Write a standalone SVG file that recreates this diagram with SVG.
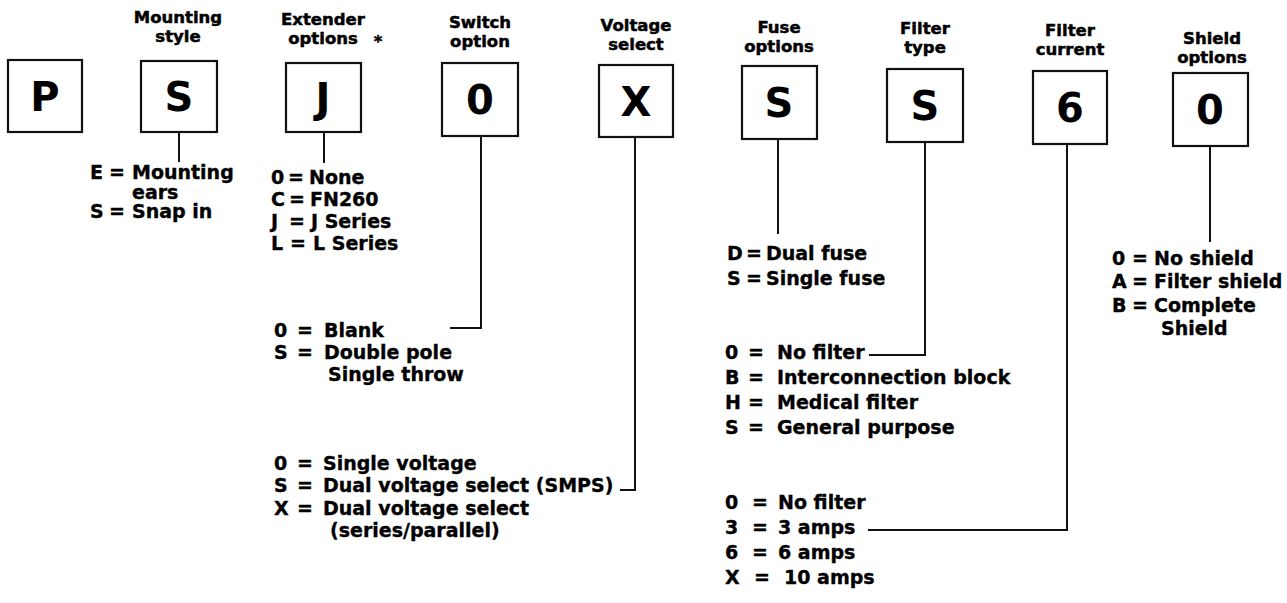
<svg xmlns="http://www.w3.org/2000/svg" width="1287" height="603" viewBox="0 0 1287 603">
<style>
.bg{fill:#fff}
.box{fill:#fff;stroke:#111;stroke-width:2.2}
.big{font-family:"DejaVu Sans","Liberation Sans",sans-serif;font-weight:bold;font-size:40px;text-anchor:middle;fill:#000}
.hd{font-family:"DejaVu Sans","Liberation Sans",sans-serif;font-weight:bold;font-size:16.5px;text-anchor:middle;fill:#000;stroke:#000;stroke-width:0.5}
.t{font-family:"DejaVu Sans","Liberation Sans",sans-serif;font-weight:bold;font-size:19px;fill:#000;stroke:#000;stroke-width:0.35}
.ln{fill:none;stroke:#111;stroke-width:2}
</style>
<rect class="bg" x="0" y="0" width="1287" height="603"/>

<g id="node-p">
<rect class="box" x="8" y="60" width="74" height="72"/>
<text class="big" x="45" y="111">P</text>
</g>

<g id="node-mounting">
<text class="hd" x="178" y="23">Mounting</text>
<text class="hd" x="178" y="42">style</text>
<rect class="box" x="141" y="61" width="76" height="71"/>
<text class="big" x="179" y="111">S</text>
<text class="t" y="179"><tspan x="90">E</tspan><tspan x="109">=</tspan><tspan x="132">Mounting</tspan></text>
<text class="t" x="132" y="198.5">ears</text>
<text class="t" y="218"><tspan x="90">S</tspan><tspan x="109">=</tspan><tspan x="132">Snap in</tspan></text>
</g>

<g id="node-extender">
<text class="hd" x="323" y="25">Extender</text>
<text class="hd" x="323" y="44">options</text>
<text class="hd" x="378" y="47">*</text>
<rect class="box" x="286" y="63" width="75" height="69"/>
<text class="big" x="323" y="112">J</text>
<text class="t" y="184"><tspan x="271">0</tspan><tspan x="288">=</tspan><tspan x="309">None</tspan></text>
<text class="t" y="206"><tspan x="271">C</tspan><tspan x="289">=</tspan><tspan x="310">FN260</tspan></text>
<text class="t" y="228"><tspan x="271">J</tspan><tspan x="289">=</tspan><tspan x="311">J Series</tspan></text>
<text class="t" y="250"><tspan x="271">L</tspan><tspan x="290">=</tspan><tspan x="313">L Series</tspan></text>
</g>

<g id="node-switch">
<text class="hd" x="480" y="28">Switch</text>
<text class="hd" x="480" y="47">option</text>
<rect class="box" x="442" y="63" width="76" height="73"/>
<text class="big" x="480" y="114">0</text>
<text class="t" y="337"><tspan x="274">0</tspan><tspan x="297">=</tspan><tspan x="324">Blank</tspan></text>
<text class="t" y="359"><tspan x="274">S</tspan><tspan x="297">=</tspan><tspan x="324">Double pole</tspan></text>
<text class="t" x="328" y="381">Single throw</text>
</g>

<g id="node-voltage">
<text class="hd" x="636" y="31">Voltage</text>
<text class="hd" x="636" y="50">select</text>
<rect class="box" x="599" y="65" width="74" height="72"/>
<text class="big" x="636" y="116">X</text>
<text class="t" y="470"><tspan x="274">0</tspan><tspan x="297">=</tspan><tspan x="323">Single voltage</tspan></text>
<text class="t" y="492"><tspan x="274">S</tspan><tspan x="297">=</tspan><tspan x="323">Dual voltage select (SMPS)</tspan></text>
<text class="t" y="515"><tspan x="274">X</tspan><tspan x="297">=</tspan><tspan x="323">Dual voltage select</tspan></text>
<text class="t" x="330" y="537">(series/parallel)</text>
</g>

<g id="node-fuse">
<text class="hd" x="779" y="33">Fuse</text>
<text class="hd" x="779" y="52">options</text>
<rect class="box" x="742" y="66" width="75" height="73"/>
<text class="big" x="779" y="117">S</text>
<text class="t" y="260"><tspan x="727">D</tspan><tspan x="746">=</tspan><tspan x="766">Dual fuse</tspan></text>
<text class="t" y="285"><tspan x="727">S</tspan><tspan x="746">=</tspan><tspan x="766">Single fuse</tspan></text>
</g>

<g id="node-filter-type">
<text class="hd" x="925" y="34">Filter</text>
<text class="hd" x="925" y="53">type</text>
<rect class="box" x="887" y="69" width="76" height="73"/>
<text class="big" x="925" y="120">S</text>
<text class="t" y="359"><tspan x="725">0</tspan><tspan x="748">=</tspan><tspan x="777">No filter</tspan></text>
<text class="t" y="384"><tspan x="725">B</tspan><tspan x="748">=</tspan><tspan x="777">Interconnection block</tspan></text>
<text class="t" y="409"><tspan x="725">H</tspan><tspan x="748">=</tspan><tspan x="777">Medical filter</tspan></text>
<text class="t" y="434"><tspan x="725">S</tspan><tspan x="748">=</tspan><tspan x="777">General purpose</tspan></text>
</g>

<g id="node-filter-current">
<text class="hd" x="1070" y="36">Filter</text>
<text class="hd" x="1070" y="55">current</text>
<rect class="box" x="1033" y="71" width="74" height="73"/>
<text class="big" x="1070" y="122">6</text>
<text class="t" y="509"><tspan x="725">0</tspan><tspan x="752">=</tspan><tspan x="778">No filter</tspan></text>
<text class="t" y="534"><tspan x="725">3</tspan><tspan x="752">=</tspan><tspan x="778">3 amps</tspan></text>
<text class="t" y="559"><tspan x="725">6</tspan><tspan x="752">=</tspan><tspan x="778">6 amps</tspan></text>
<text class="t" y="584"><tspan x="725">X</tspan><tspan x="754">=</tspan><tspan x="784">10 amps</tspan></text>
</g>

<g id="node-shield">
<text class="hd" x="1212" y="44">Shield</text>
<text class="hd" x="1212" y="63">options</text>
<rect class="box" x="1173" y="73" width="75" height="73"/>
<text class="big" x="1210" y="124">0</text>
<text class="t" y="265"><tspan x="1112">0</tspan><tspan x="1132">=</tspan><tspan x="1154">No shield</tspan></text>
<text class="t" y="288"><tspan x="1112">A</tspan><tspan x="1132">=</tspan><tspan x="1154">Filter shield</tspan></text>
<text class="t" y="312"><tspan x="1112">B</tspan><tspan x="1132">=</tspan><tspan x="1154">Complete</tspan></text>
<text class="t" x="1161" y="335">Shield</text>
</g>

<g id="connectors">
<path class="ln" d="M179,132 V162"/>
<path class="ln" d="M324,132 V163"/>
<path class="ln" d="M481,136 V328 H450"/>
<path class="ln" d="M635,137 V490 H620"/>
<path class="ln" d="M778,139 V234"/>
<path class="ln" d="M925,142 V355 H869"/>
<path class="ln" d="M1067,144 V530 H868"/>
<path class="ln" d="M1210,146 V242"/>
</g>
</svg>
